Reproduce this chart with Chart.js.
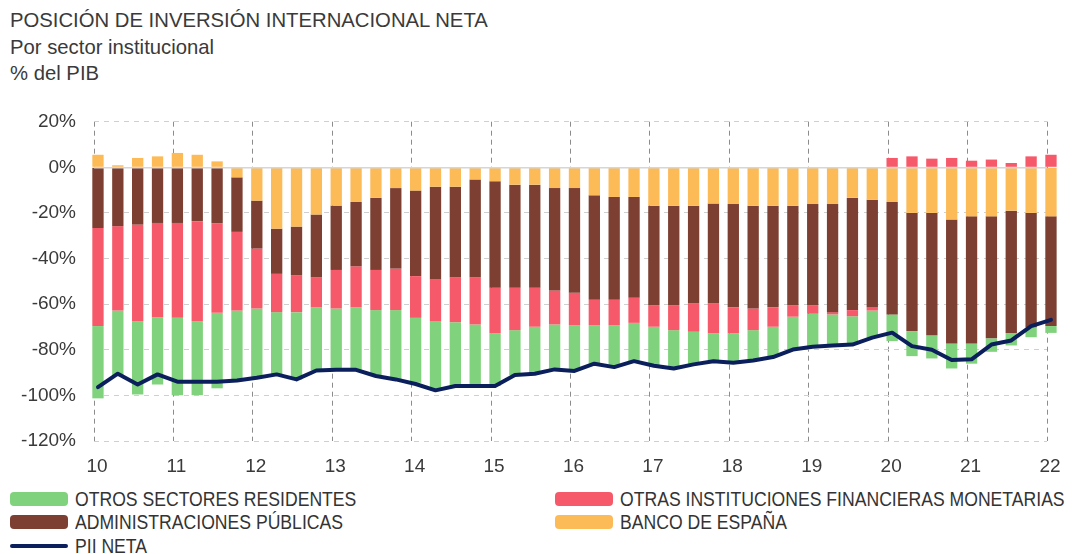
<!DOCTYPE html>
<html>
<head>
<meta charset="utf-8">
<script src="https://cdn.jsdelivr.net/npm/chart.js@4.4.0/dist/chart.umd.min.js"></script>
<style>
html,body{margin:0;padding:0;background:#fff;width:1082px;height:554px;overflow:hidden;font-family:"Liberation Sans",Arial,sans-serif;}
#title{position:absolute;left:10px;top:7px;color:#3a3a3a;font-size:20.3px;line-height:26.5px;}
#wrap{position:absolute;left:0;top:100px;width:1082px;height:384px;}
.leg{position:absolute;height:20px;font-family:"Liberation Sans",Arial,sans-serif;font-size:20px;color:#333;white-space:nowrap;}
.sw{position:absolute;left:0;top:3px;width:58px;height:14px;border-radius:4px;}
.ln{position:absolute;left:0;top:8px;width:58px;height:4px;border-radius:2px;}
.tx{position:absolute;left:65px;top:0;line-height:20px;transform:scaleX(0.88);transform-origin:0 50%;}
</style>
</head>
<body>
<div id="title">POSICIÓN DE INVERSIÓN INTERNACIONAL NETA<br>Por sector institucional<br>% del PIB</div>
<div id="wrap"><canvas id="c" width="1082" height="384"></canvas></div>
<div id="legend"></div>
<script>
// ---- Data (quarterly, 2010 T1 – 2022 T1), % del PIB ----
const years = [2010,2011,2012,2013,2014,2015,2016,2017,2018,2019,2020,2021,2022];
const yearTickLabels = ['10','11','12','13','14','15','16','17','18','19','20','21','22'];
const quarters = [];
years.forEach(y => { for (let q = 1; q <= 4; q++) { if (y === 2022 && q > 1) break; quarters.push(y + ' T' + q); } });

const bancoEspana = [5.5,0.9,4.1,4.8, 6.3,5.5,2.6,-4.4, -14.6,-26.9,-26.0,-20.7, -16.8,-15.2,-13.4,-9.1,
  -10.2,-8.5,-8.5,-5.3, -6.1,-7.6,-7.6,-9.1, -9.1,-12.3,-13.0,-13.0, -16.8,-16.8,-16.8,-15.9,
  -16.1,-16.8,-16.8,-16.8, -16.1,-16.1,-13.4,-14.2, -15.2,-20.0,-20.0,-22.9, -21.5,-21.5,-19.0,-20.0, -21.5];
const adminPublicas = [-26.6,-25.8,-25.1,-24.4, -24.4,-23.6,-24.5,-23.9, -21.0,-19.8,-21.3,-27.5, -28.2,-28.2,-31.6,-35.3,
  -37.5,-40.7,-39.7,-42.9, -46.7,-45.2,-45.2,-44.9, -45.9,-45.8,-45.1,-44.2, -43.6,-43.6,-42.8,-43.7,
  -45.2,-45.1,-44.5,-43.6, -44.3,-47.4,-49.2,-47.0, -49.3,-51.8,-53.6,-54.3, -55.7,-53.5,-53.6,-50.1, -48.1];
const otrasIFM = [-43.0,-37.0,-42.3,-41.3, -41.6,-43.8,-39.3,-34.5, -26.3,-16.8,-16.2,-13.1, -16.9,-17.9,-17.6,-18.2,
  -18.3,-18.2,-19.7,-20.7, -19.9,-18.6,-17.1,-14.9, -14.2,-11.1,-11.1,-11.0, -9.5,-11.0,-12.5,-13.2,
  -11.5,-9.5,-8.6,-5.1, -3.8,-1.0,-2.7,-1.6, 4.1,4.8,3.8,4.1, 2.9,3.4,1.9,4.8, 5.5];
const otrosSectores = [-31.7,-28.6,-32.2,-29.5, -33.9,-32.5,-33.1,-30.7, -30.4,-27.3,-29.5,-27.8, -26.9,-27.5,-28.9,-30.4,
  -28.5,-30.4,-28.0,-27.0, -23.2,-19.7,-20.6,-19.7, -20.1,-16.9,-18.4,-16.8, -17.1,-16.8,-14.3,-12.2,
  -12.9,-13.3,-13.3,-14.4, -14.5,-13.6,-12.4,-11.9, -11.7,-11.0,-10.2,-11.0, -8.9,-5.9,-5.5,-4.4, -3.0];
const piiNeta = [-96.4,-90.5,-95.2,-90.8, -94.0,-94.0,-94.0,-93.5, -92.3,-90.8,-93.0,-89.1, -88.8,-88.8,-91.5,-93.0,
  -95.0,-97.8,-95.9,-95.9, -95.9,-91.1,-90.5,-88.6, -89.3,-86.1,-87.6,-85.0, -87.0,-88.2,-86.4,-85.0,
  -85.7,-84.7,-83.2,-79.9, -78.7,-78.1,-77.7,-74.7, -72.5,-78.4,-80.0,-84.5, -84.2,-77.7,-75.9,-69.6, -66.9];
const yTickValues = [20,0,-20,-40,-60,-80,-100,-120];

// ---- Styles ----
const COLORS = {
  osr: '#80d27d', ifm: '#f65a6a', aapp: '#7c3f31', bde: '#fdbb58', pii: '#0b1f5c'
};
const BAR_SHIFT = 0.2;   // bars drawn just after the quarter mark
const pts = arr => arr.map((v, i) => ({x: i + BAR_SHIFT, y: v}));

const barCommon = {type: 'bar', stack: 'sect', barPercentage: 0.57, categoryPercentage: 1, clip: false, order: 2, borderWidth: 0};
const datasets = [
  Object.assign({label: 'BANCO DE ESPAÑA', data: pts(bancoEspana), backgroundColor: COLORS.bde}, barCommon),
  Object.assign({label: 'ADMINISTRACIONES PÚBLICAS', data: pts(adminPublicas), backgroundColor: COLORS.aapp}, barCommon),
  Object.assign({label: 'OTRAS INSTITUCIONES FINANCIERAS MONETARIAS', data: pts(otrasIFM), backgroundColor: COLORS.ifm}, barCommon),
  Object.assign({label: 'OTROS SECTORES RESIDENTES', data: pts(otrosSectores), backgroundColor: COLORS.osr}, barCommon),
  {type: 'line', label: 'PII NETA', data: pts(piiNeta), borderColor: COLORS.pii, backgroundColor: COLORS.pii,
   borderWidth: 4, pointRadius: 0, tension: 0, stack: 'pii', clip: false, order: 0, borderJoinStyle: 'round', borderCapStyle: 'round'}
];

const tickFont = {family: '"Liberation Sans", Arial, sans-serif', size: 19};
// target plot box inside the canvas (canvas sits at page y=100)
const PLOT_TOP = 21.7, PLOT_BOTTOM = 341;
let xAxisHeight = 43;

const chart = new Chart(document.getElementById('c'), {
  data: {datasets},
  options: {
    responsive: false,
    animation: false,
    events: [],
    layout: {padding: {top: PLOT_TOP, right: 35, left: 0, bottom: 0}},
    plugins: {legend: {display: false}, tooltip: {enabled: false}},
    scales: {
      x: {
        type: 'linear', min: 0, max: (quarters.length - 1), stacked: true, offset: false,
        ticks: {stepSize: 4, autoSkip: false, maxRotation: 0, padding: 14, color: '#3a3a3a', font: tickFont,
                labelOffset: 3,
                callback: v => yearTickLabels[v / 4]},
        grid: {color: '#8c8c8c', lineWidth: 1, drawTicks: false, offset: false},
        border: {display: false, dash: [5, 4]},
        afterFit: s => { s.height = xAxisHeight; }
      },
      y: {
        type: 'linear', min: -120, max: 20, stacked: true,
        afterBuildTicks: s => { s.ticks = yTickValues.map(v => ({value: v})); },
        ticks: {padding: 18, color: '#3a3a3a', font: tickFont, callback: v => v + '%'},
        grid: {color: '#cfcfcf', lineWidth: 1, drawTicks: false},
        border: {display: false, dash: [5, 5]},
        afterFit: s => { s.width = 94; s.paddingTop = 0; s.paddingBottom = 0; }
      },
      yz: {
        type: 'linear', min: -120, max: 20, position: 'left', display: true,
        afterBuildTicks: s => { s.ticks = [{value: 0}]; },
        ticks: {display: false, padding: 0},
        grid: {color: '#d6d6d6', lineWidth: 1.5, drawTicks: false, z: 1},
        border: {display: false},
        afterFit: s => { s.width = 0; s.paddingTop = 0; s.paddingBottom = 0; }
      }
    }
  }
});
// align the plot box with the original's axis frame
const dTop = PLOT_TOP - chart.scales.y.top;
const dBot = PLOT_BOTTOM - chart.scales.y.bottom;
if (Math.abs(dTop) > 0.2 || Math.abs(dBot) > 0.2) {
  chart.options.layout.padding.top += dTop;
  xAxisHeight -= dBot;
  chart.update();
}

// ---- HTML legend (two columns, as in the original) ----
const legendItems = [
  {label: 'OTROS SECTORES RESIDENTES', color: COLORS.osr, kind: 'box', left: 10, top: 489},
  {label: 'OTRAS INSTITUCIONES FINANCIERAS MONETARIAS', color: COLORS.ifm, kind: 'box', left: 555, top: 489},
  {label: 'ADMINISTRACIONES PÚBLICAS', color: COLORS.aapp, kind: 'box', left: 10, top: 512},
  {label: 'BANCO DE ESPAÑA', color: COLORS.bde, kind: 'box', left: 555, top: 512},
  {label: 'PII NETA', color: COLORS.pii, kind: 'line', left: 10, top: 536}
];
const lg = document.getElementById('legend');
legendItems.forEach(it => {
  const d = document.createElement('div');
  d.className = 'leg';
  d.style.left = it.left + 'px';
  d.style.top = it.top + 'px';
  const s = document.createElement('span');
  s.className = it.kind === 'box' ? 'sw' : 'ln';
  s.style.background = it.color;
  const t = document.createElement('span');
  t.className = 'tx';
  t.textContent = it.label;
  d.appendChild(s); d.appendChild(t);
  lg.appendChild(d);
});
</script>
</body>
</html>
